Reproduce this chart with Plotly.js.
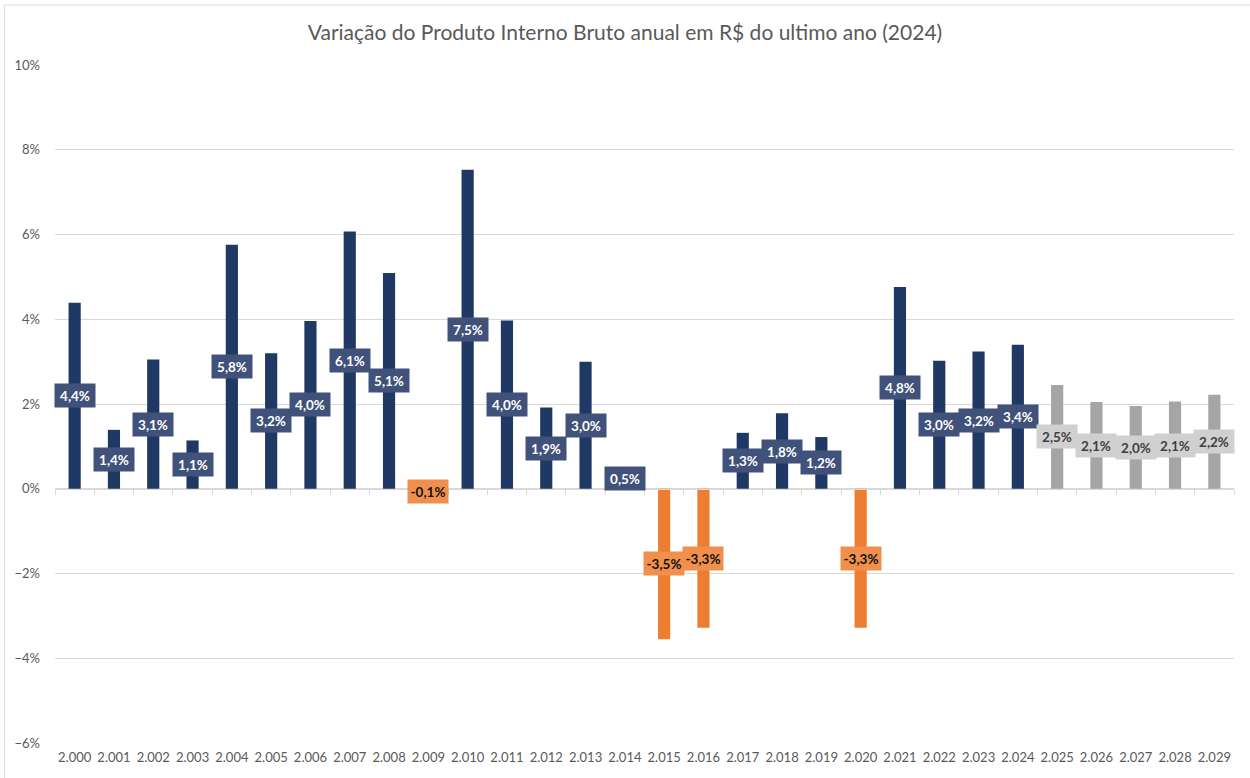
<!DOCTYPE html>
<html>
<head>
<meta charset="utf-8">
<script src="https://cdn.plot.ly/plotly-3.0.1.min.js"></script>
<style>html,body{margin:0;padding:0;background:#fff}#chart{width:1250px;height:778px}</style>
</head>
<body>
<div id="chart"></div>
<script>
var years = ['2.000','2.001','2.002','2.003','2.004','2.005','2.006','2.007','2.008','2.009',
             '2.010','2.011','2.012','2.013','2.014','2.015','2.016','2.017','2.018','2.019',
             '2.020','2.021','2.022','2.023','2.024','2.025','2.026','2.027','2.028','2.029'];
var values = [4.39,1.39,3.05,1.14,5.76,3.20,3.96,6.07,5.09,-0.13,
              7.53,3.97,1.92,3.00,0.50,-3.55,-3.28,1.32,1.78,1.22,
              -3.28,4.76,3.02,3.24,3.40,2.45,2.05,1.95,2.06,2.22];
var labels = ['4,4%','1,4%','3,1%','1,1%','5,8%','3,2%','4,0%','6,1%','5,1%','-0,1%',
              '7,5%','4,0%','1,9%','3,0%','0,5%','-3,5%','-3,3%','1,3%','1,8%','1,2%',
              '-3,3%','4,8%','3,0%','3,2%','3,4%','2,5%','2,1%','2,0%','2,1%','2,2%'];
var lastActualYear = '2.024';

var lastIdx = years.indexOf(lastActualYear);
function kind(i){ if (i > lastIdx) return 'proj'; return values[i] < 0 ? 'neg' : 'pos'; }
var barColor = {pos:'#203864', neg:'#ED7D31', proj:'#A5A5A5'};
var boxColor = {pos:'#41527A', neg:'#F0904C', proj:'#D0D0D0'};
var txtColor = {pos:'#FFFFFF', neg:'#111111', proj:'#404040'};

var FONT = 'Lato, Calibri, "Open Sans", sans-serif';
var idx = years.map(function(_,i){return i;});

var bars = {
  type:'bar', x: idx, y: values,
  marker:{color: idx.map(function(i){return barColor[kind(i)];})},
  hoverinfo:'y', showlegend:false
};
var dummy = {type:'scatter', x: idx, y: values.map(function(){return null;}), xaxis:'x2', yaxis:'y', showlegend:false, hoverinfo:'skip'};

var annotations = idx.map(function(i){
  var k = kind(i);
  return {
    x: i, y: values[i]/2, xref:'x', yref:'y', text: '<b>' + labels[i] + '</b>', showarrow:false,
    font:{family:FONT, size:13.5, color: txtColor[k]},
    bgcolor: boxColor[k], width: 40, height: 23, borderpad:0
  };
});

var layout = {
  width:1250, height:778,
  paper_bgcolor:'#FFFFFF', plot_bgcolor:'#FFFFFF',
  margin:{l:55, r:16, t:65, b:35},
  font:{family:FONT, color:'#595959', size:12},
  title:{text:'Variação do Produto Interno Bruto anual em R$ do ultimo ano (2024)',
         font:{family:FONT, size:21, color:'#595959'}, x:0.5, xanchor:'center', y:0.958, yanchor:'middle'},
  bargap:0.69,
  xaxis:{type:'linear', range:[-0.5, years.length-0.5], tickmode:'array', tickvals: idx, ticktext: years,
         showgrid:false, zeroline:false, showline:false, ticks:'',
         tickfont:{family:FONT, size:13, color:'#595959'}, ticklabelstandoff:5},
  xaxis2:{type:'linear', range:[-0.5, years.length-0.5], overlaying:'x',
          anchor:'free', position: 6/16, showticklabels:false, showgrid:false, zeroline:false,
          showline:true, linecolor:'#D9D9D9', linewidth:1, ticks:'outside',
          tickmode:'array', tickvals: idx.concat([years.length]).map(function(i){return i-0.5;}),
          ticklen:5, tickcolor:'#D9D9D9', tickwidth:1},
  yaxis:{range:[-6,10], dtick:2, tick0:0, ticksuffix:'%', showgrid:true, gridcolor:'#D9D9D9', gridwidth:1,
         zeroline:true, zerolinecolor:'#D9D9D9', zerolinewidth:1, showline:false, ticks:'',
         tickfont:{family:FONT, size:13, color:'#595959'}, ticklabelstandoff:14},
  annotations: annotations,
  shapes:[{type:'rect', xref:'paper', yref:'paper', x0:-0.0428, x1:1.03, y0:-0.1, y1:1.0885,
           line:{color:'#D9D9D9', width:1}, fillcolor:'rgba(0,0,0,0)', layer:'below'}]
};

Plotly.newPlot('chart', [bars, dummy], layout, {displayModeBar:false, staticPlot:true});
</script>
</body>
</html>
